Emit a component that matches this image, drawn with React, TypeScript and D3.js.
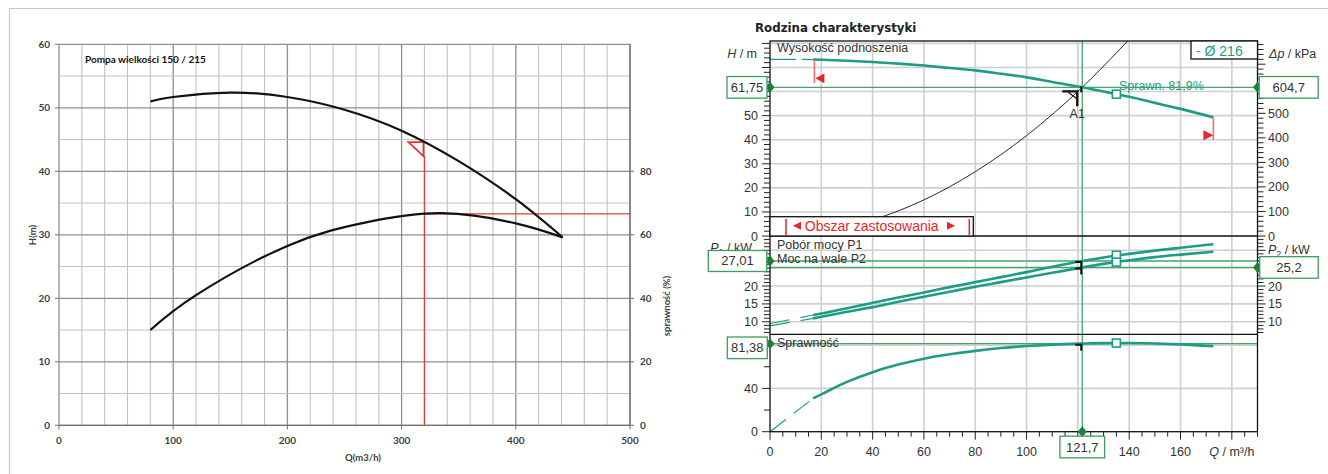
import React from 'react';
import * as d3 from 'd3';

// ---------- Left chart data (Pompa wielkości 150 / 215) ----------
const leftHeadQ = [80, 100, 150, 200, 250, 300, 350, 400, 441];
const leftHead = [51.0, 51.7, 52.4, 51.7, 49.7, 46.4, 41.6, 35.6, 29.6];
const leftEffQ = [80, 120, 200, 270, 335, 400, 441];
const leftEff = [30, 41, 56.5, 64, 66.8, 63.6, 59.2];
const leftOpQ = 320;
const leftOpH = 44.6;
const leftOpEff = 66.6;
const leftXTicks = [0, 100, 200, 300, 400, 500];
const leftYTicks = [0, 10, 20, 30, 40, 50, 60];
const leftEffTicks = [0, 20, 40, 60, 80];

// ---------- Right chart data (Rodzina charakterystyki) ----------
const rQ = [0, 10, 16.8, 20, 30, 40, 50, 60, 70, 80, 90, 100, 110, 121.7, 130, 140, 150, 160, 172.8];
const rHead = [73.4, 73.4, 73.3, 73.2, 72.8, 72.3, 71.6, 70.8, 69.8, 68.8, 67.4, 65.9, 64.0, 61.75, 60.0, 57.8, 55.3, 52.8, 49.3];
const rP1 = [9.5, 10.9, 11.9, 12.3, 13.8, 15.3, 16.8, 18.2, 19.7, 21.1, 22.5, 23.9, 25.4, 27.01, 28.0, 29.0, 29.9, 30.7, 31.7];
const rP2 = [8.9, 10.1, 10.95, 11.4, 12.8, 14.1, 15.6, 17.0, 18.4, 19.8, 21.1, 22.4, 23.7, 25.2, 26.2, 27.2, 28.1, 28.8, 29.6];
const rEff = [0, 18.3, 30.8, 34.5, 46, 55, 62, 67.5, 71.5, 74.7, 77.3, 79.2, 80.5, 81.38, 81.8, 81.9, 81.5, 80.7, 79.1];
const dashEndIndex = 2; // curves dashed up to Q = 16.8
const sysQ = [0, 20, 40, 60, 80, 100, 121.7, 139.4];
const sysH = [0, 1.67, 6.67, 15.0, 26.7, 41.7, 61.75, 81];
const opQ = 121.7;
const opH = 61.75;
const opDp = 604.7;
const opP1 = 27.01;
const opP2 = 25.2;
const opEff = 81.38;
const bestQ = 135;
const bestH = 58.9;
const bestP1 = 28.6;
const bestP2 = 26.7;
const bestEff = 81.9;
const rangeMinQ = 17.3;
const rangeMaxQ = 172.8;
// visible tick labels (the ones under the value boxes are hidden in the reference)
const xLabels = [0, 20, 40, 60, 80, 100, 140, 160];
const headLabels = [0, 10, 20, 30, 40, 50];
const kpaLabels = [0, 100, 200, 300, 400, 500];
const powLabels = [10, 15, 20];
const effLabels = [0, 40];

const teal = '#1f9c84';
const opGreen = '#43a56a';
const darkGreen = '#1b7f3e';
const boxGreen = '#3d9c5e';
const red = '#e8262b';
const gridC = '#cfcfcf';
const txt = '#333';
const rFont = '"Liberation Sans", Arial, sans-serif';
const lFont = 'Lato, "Open Sans", sans-serif';

const fmt = (v: number) => String(v).replace('.', ',');

export default function App() {
  // Left chart scales
  const xL = d3.scaleLinear().domain([0, 500]).range([59, 630]);
  const yL = d3.scaleLinear().domain([0, 60]).range([425.3, 44.3]);
  const yLE = d3.scaleLinear().domain([0, 120]).range([425.3, 44.3]);
  const lineL = d3.line<[number, number]>().curve(d3.curveNatural);
  const headPathL = lineL(leftHeadQ.map((q, i) => [xL(q), yL(leftHead[i])]));
  const effPathL = lineL(leftEffQ.map((q, i) => [xL(q), yLE(leftEff[i])]));

  // Right chart scales
  const PL = 770, PR = 1257.5, PT = 41, B1 = 236, B2 = 334.3, B3 = 431.7;
  const xR = d3.scaleLinear().domain([0, 190]).range([PL, PR]);
  const yHd = d3.scaleLinear().domain([0, 81]).range([B1, PT]);
  const yKpa = d3.scaleLinear().domain([0, 81 * 9.81]).range([B1, PT]);
  const yPw = d3.scaleLinear().domain([6.5, 34]).range([B2, B1]);
  const yEf = d3.scaleLinear().domain([0, 90]).range([B3, B2]);
  const lineR = d3.line<[number, number]>().curve(d3.curveMonotoneX);
  const mk = (vals: number[], y: d3.ScaleLinear<number, number>, from: number, to: number) =>
    lineR(rQ.slice(from, to).map((q, i) => [xR(q), y(vals[from + i])]));
  const n = rQ.length;
  const sysPath = lineR(sysQ.map((q, i) => [xR(q), yHd(sysH[i])]));

  const diamond = (x: number, y: number) => `M${x},${y - 5.5}L${x + 4.5},${y}L${x},${y + 5.5}L${x - 4.5},${y}Z`;
  const box = (cx: number, cy: number, w: number, h: number, label: string, key: string) => (
    <g key={key}>
      <rect x={cx - w / 2} y={cy - h / 2} width={w} height={h} fill="#fff" stroke={boxGreen} strokeWidth={1.3} />
      <text x={cx} y={cy + 4.5} textAnchor="middle" fontSize={13} fill={txt} fontFamily={rFont}>{label}</text>
    </g>
  );
  const corner = (x: number, y: number, key: string) => (
    <path key={key} d={`M${x - 7},${y + 1}L${x - 1},${y + 1}L${x - 1},${y + 7}`} fill="none" stroke="#111" strokeWidth={2} />
  );
  const square = (x: number, y: number, key: string) => (
    <rect key={key} x={x - 4} y={y - 4} width={8} height={8} fill="#fff" stroke={teal} strokeWidth={1.6} />
  );

  const opX = xR(opQ);
  const effBoxCy = Math.max(yEf(opEff), B2 + 13.5);

  return (
    <svg width={1328} height={474} style={{ position: 'absolute', left: 0, top: 0, background: '#fff' }}>
      <defs>
        <clipPath id="cHead"><rect x={PL} y={PT} width={PR - PL} height={B1 - PT} /></clipPath>
        <clipPath id="cPow"><rect x={PL} y={B1} width={PR - PL} height={B2 - B1} /></clipPath>
        <clipPath id="cEff"><rect x={PL} y={B2} width={PR - PL} height={B3 - B2} /></clipPath>
      </defs>
      {/* outer frame */}
      <line x1={9} y1={8.5} x2={1328} y2={8.5} stroke="#c8c8c8" strokeWidth={1.2} />
      <line x1={9.5} y1={8.5} x2={9.5} y2={474} stroke="#c8c8c8" strokeWidth={1.2} />

      {/* ================= LEFT CHART ================= */}
      <g>
        {d3.range(0, 501, 20).map(q => (
          <line key={'lv' + q} x1={xL(q)} x2={xL(q)} y1={yL(60)} y2={yL(0)}
            stroke={q % 100 === 0 ? '#8e8e8e' : '#c2c2c2'} strokeWidth={q % 100 === 0 ? 1.3 : 1.1} />
        ))}
        {d3.range(0, 61, 5).map(h => (
          <line key={'lh' + h} x1={xL(0)} x2={xL(500)} y1={yL(h)} y2={yL(h)}
            stroke={h % 10 === 0 ? '#8e8e8e' : '#c2c2c2'} strokeWidth={h % 10 === 0 ? 1.3 : 1.1} />
        ))}
        <line x1={xL(500)} x2={xL(500)} y1={yL(60)} y2={yL(0)} stroke="#707070" strokeWidth={1.3} />
        <line x1={xL(0)} x2={xL(500)} y1={yL(0)} y2={yL(0)} stroke="#707070" strokeWidth={1.3} />
        {leftYTicks.map(h => (
          <g key={'lyt' + h}>
            <line x1={xL(0) - 4} x2={xL(0)} y1={yL(h)} y2={yL(h)} stroke="#707070" />
            <text x={xL(0) - 9} y={yL(h) + 3.5} textAnchor="end" fontSize={10} fontWeight="bold" fill="#404040" fontFamily={lFont}>{h}</text>
          </g>
        ))}
        {leftXTicks.map(q => (
          <g key={'lxt' + q}>
            <line x1={xL(q)} x2={xL(q)} y1={yL(0)} y2={yL(0) + 4} stroke="#707070" />
            <text x={xL(q)} y={444} textAnchor="middle" fontSize={10} fontWeight="bold" fill="#404040" fontFamily={lFont}>{q}</text>
          </g>
        ))}
        {leftEffTicks.map(e => (
          <g key={'let' + e}>
            <line x1={xL(500)} x2={xL(500) + 4} y1={yLE(e)} y2={yLE(e)} stroke="#707070" />
            <text x={xL(500) + 10} y={yLE(e) + 3.5} textAnchor="start" fontSize={10} fontWeight="bold" fill="#404040" fontFamily={lFont}>{e}</text>
          </g>
        ))}
        <text x={85} y={63} fontSize={10} fontWeight="bold" fill="#111" fontFamily={lFont}>Pompa wielkości 150 / 215</text>
        <text transform="translate(36,235) rotate(-90)" textAnchor="middle" fontSize={9.5} fontWeight="bold" fill="#404040" fontFamily={lFont}>H(m)</text>
        <text x={363} y={461} textAnchor="middle" fontSize={9.5} fontWeight="bold" fill="#404040" fontFamily={lFont}>Q(m3/h)</text>
        <text transform="translate(670,306) rotate(-90)" textAnchor="middle" fontSize={9.5} fontWeight="bold" fill="#404040" fontFamily={lFont}>sprawność (%)</text>
        {/* operating point red lines */}
        <line x1={xL(leftOpQ)} x2={xL(500)} y1={yLE(leftOpEff)} y2={yLE(leftOpEff)} stroke="#e03a3a" strokeWidth={1.3} />
        <line x1={xL(leftOpQ)} x2={xL(leftOpQ)} y1={yL(0)} y2={yL(leftOpH) + 14} stroke="#e03a3a" strokeWidth={1.3} />
        <path d={`M${xL(leftOpQ) - 16},${yL(leftOpH)}L${xL(leftOpQ) - 1},${yL(leftOpH)}L${xL(leftOpQ) - 1},${yL(leftOpH) + 14}Z`}
          fill="none" stroke="#e03a3a" strokeWidth={1.8} />
        <path d={headPathL ?? ''} fill="none" stroke="#111" strokeWidth={2.2} />
        <path d={effPathL ?? ''} fill="none" stroke="#111" strokeWidth={2.2} />
      </g>

      {/* ================= RIGHT CHART ================= */}
      <g fontFamily={rFont}>
        <text x={755} y={32} fontSize={11.8} fontWeight="bold" fill="#222" fontFamily='"DejaVu Sans", Verdana, sans-serif'>Rodzina charakterystyki</text>

        {/* grid */}
        {d3.range(20, 181, 20).map(q => (
          <line key={'rv' + q} x1={xR(q)} x2={xR(q)} y1={PT} y2={B3} stroke={gridC} strokeWidth={1.6} />
        ))}
        {d3.range(10, 81, 10).map(h => (
          <line key={'rhh' + h} x1={PL} x2={PR} y1={yHd(h)} y2={yHd(h)} stroke={gridC} strokeWidth={1.6} />
        ))}
        {d3.range(10, 31, 5).map(p => (
          <line key={'rhp' + p} x1={PL} x2={PR} y1={yPw(p)} y2={yPw(p)} stroke={gridC} strokeWidth={1.6} />
        ))}
        {[40, 80].map(e => (
          <line key={'rhe' + e} x1={PL} x2={PR} y1={yEf(e)} y2={yEf(e)} stroke={gridC} strokeWidth={1.6} />
        ))}

        {/* system curve */}
        <g clipPath="url(#cHead)">
          <path d={sysPath ?? ''} fill="none" stroke="#111" strokeWidth={0.9} />
        </g>

        {/* operating point lines */}
        <line x1={opX} x2={opX} y1={PT} y2={B3} stroke={opGreen} strokeWidth={1.3} />
        <line x1={PL} x2={PR} y1={yHd(opH)} y2={yHd(opH)} stroke={opGreen} strokeWidth={1.3} />
        <line x1={PL} x2={PR} y1={yPw(opP1)} y2={yPw(opP1)} stroke={opGreen} strokeWidth={1.3} />
        <line x1={PL} x2={PR} y1={yPw(opP2)} y2={yPw(opP2)} stroke={opGreen} strokeWidth={1.3} />
        <line x1={PL} x2={PR} y1={yEf(opEff)} y2={yEf(opEff)} stroke={opGreen} strokeWidth={1.3} />

        {/* pump curves */}
        <g clipPath="url(#cHead)">
          <path d={mk(rHead, yHd, 0, dashEndIndex + 1) ?? ''} fill="none" stroke={teal} strokeWidth={1.3} strokeDasharray="26,6" />
          <path d={mk(rHead, yHd, dashEndIndex, n) ?? ''} fill="none" stroke={teal} strokeWidth={2.6} />
        </g>
        <g clipPath="url(#cPow)">
          <path d={mk(rP1, yPw, 0, dashEndIndex + 1) ?? ''} fill="none" stroke={teal} strokeWidth={1.2} strokeDasharray="20,11" />
          <path d={mk(rP2, yPw, 0, dashEndIndex + 1) ?? ''} fill="none" stroke={teal} strokeWidth={1.2} strokeDasharray="20,11" />
          <path d={mk(rP1, yPw, dashEndIndex, n) ?? ''} fill="none" stroke={teal} strokeWidth={2.6} />
          <path d={mk(rP2, yPw, dashEndIndex, n) ?? ''} fill="none" stroke={teal} strokeWidth={2.6} />
        </g>
        <g clipPath="url(#cEff)">
          <path d={mk(rEff, yEf, 0, dashEndIndex + 1) ?? ''} fill="none" stroke={teal} strokeWidth={1.2} strokeDasharray="20,10" />
          <path d={mk(rEff, yEf, dashEndIndex, n) ?? ''} fill="none" stroke={teal} strokeWidth={2.6} />
        </g>

        {/* panel frames */}
        <rect x={PL} y={PT} width={PR - PL} height={B3 - PT} fill="none" stroke="#111" strokeWidth={1.3} />
        <line x1={PL} x2={PR} y1={B1} y2={B1} stroke="#111" strokeWidth={1.3} />
        <line x1={PL} x2={PR} y1={B2} y2={B2} stroke="#111" strokeWidth={1.3} />

        {/* application range markers */}
        <line x1={xR(rangeMinQ)} x2={xR(rangeMinQ)} y1={yHd(73.2)} y2={yHd(63.5)} stroke="#f07070" strokeWidth={1.6} />
        <path d={`M${xR(rangeMinQ) + 1},${yHd(65.5)}L${xR(rangeMinQ) + 10},${yHd(67.5)}L${xR(rangeMinQ) + 10},${yHd(63.5)}Z`} fill={red} />
        <line x1={xR(rangeMaxQ)} x2={xR(rangeMaxQ)} y1={yHd(49.3)} y2={yHd(39.8)} stroke="#f07070" strokeWidth={1.6} />
        <path d={`M${xR(rangeMaxQ) - 10},${yHd(43.9)}L${xR(rangeMaxQ)},${yHd(41.9)}L${xR(rangeMaxQ) - 10},${yHd(39.8)}Z`} fill={red} />

        {/* Obszar zastosowania */}
        <rect x={PL} y={216.7} width={203.3} height={B1 - 216.7} fill="#fff" stroke="#111" strokeWidth={1.3} />
        <line x1={786} x2={786} y1={219} y2={B1} stroke={red} strokeWidth={1.5} />
        <line x1={969.3} x2={969.3} y1={219} y2={B1} stroke={red} strokeWidth={1.5} />
        <path d="M793,225.7L801,221.7L801,229.7Z" fill={red} />
        <path d="M955,225.7L947,221.7L947,229.7Z" fill={red} />
        <text x={871.7} y={230.5} textAnchor="middle" fontSize={14} fill={red}>Obszar zastosowania</text>

        {/* left head axis */}
        {d3.range(0, 81, 2).map(h => (
          <line key={'th' + h} x1={PL - (h % 10 === 0 ? 8 : 6)} x2={PL} y1={yHd(h)} y2={yHd(h)} stroke="#222" strokeWidth={1} />
        ))}
        {headLabels.map(h => (
          <text key={'lh' + h} x={758} y={yHd(h) + 4.5} textAnchor="end" fontSize={12.5} fill={txt}>{h}</text>
        ))}
        {/* right kPa axis */}
        {d3.range(0, 781, 20).map(p => (
          <line key={'tk' + p} x1={PR} x2={PR + (p % 100 === 0 ? 8 : 6)} y1={yKpa(p)} y2={yKpa(p)} stroke="#222" strokeWidth={1} />
        ))}
        {kpaLabels.map(p => (
          <text key={'lk' + p} x={1268} y={yKpa(p) + 4.5} textAnchor="start" fontSize={12.5} fill={txt}>{p}</text>
        ))}
        {/* power axes */}
        {d3.range(7, 34, 1).map(p => (
          <g key={'tp' + p}>
            <line x1={PL - (p % 5 === 0 ? 8 : 6)} x2={PL} y1={yPw(p)} y2={yPw(p)} stroke="#222" strokeWidth={1} />
            <line x1={PR} x2={PR + (p % 5 === 0 ? 8 : 6)} y1={yPw(p)} y2={yPw(p)} stroke="#222" strokeWidth={1} />
          </g>
        ))}
        {powLabels.map(p => (
          <g key={'lp' + p}>
            <text x={758} y={yPw(p) + 4.5} textAnchor="end" fontSize={12.5} fill={txt}>{p}</text>
            <text x={1268} y={yPw(p) + 4.5} textAnchor="start" fontSize={12.5} fill={txt}>{p}</text>
          </g>
        ))}
        {/* efficiency axis */}
        {[0, 20, 40, 60, 80].map(e => (
          <line key={'te' + e} x1={PL - (e % 40 === 0 ? 8 : 6)} x2={PL} y1={yEf(e)} y2={yEf(e)} stroke="#222" strokeWidth={1} />
        ))}
        {effLabels.map(e => (
          <text key={'le' + e} x={758} y={yEf(e) + 4.5} textAnchor="end" fontSize={12.5} fill={txt}>{e}</text>
        ))}
        {/* x axis */}
        {d3.range(0, 191, 5).map(q => (
          <line key={'tx' + q} x1={xR(q)} x2={xR(q)} y1={B3} y2={B3 + (q % 20 === 0 ? 8 : 5)} stroke="#222" strokeWidth={1} />
        ))}
        {xLabels.map(q => (
          <text key={'lx' + q} x={xR(q)} y={456} textAnchor="middle" fontSize={12.5} fill={txt}>{q}</text>
        ))}
        <text x={xR(180)} y={456} textAnchor="middle" fontSize={12.5} fill={txt}>
          <tspan fontStyle="italic">Q</tspan> / m³/h
        </text>

        {/* axis titles */}
        <text x={757} y={58} textAnchor="end" fontSize={12.5} fill={txt}><tspan fontStyle="italic">H</tspan> / m</text>
        <text x={1269} y={58} textAnchor="start" fontSize={12.5} fill={txt}><tspan fontStyle="italic">Δp</tspan> / kPa</text>
        <text x={752} y={252} textAnchor="end" fontSize={12.5} fill={txt}>
          <tspan fontStyle="italic">P</tspan><tspan fontSize={9} dy={3}>1</tspan><tspan dy={-3}> / kW</tspan>
        </text>
        <text x={1268} y={254} textAnchor="start" fontSize={12.5} fill={txt}>
          <tspan fontStyle="italic">P</tspan><tspan fontSize={9} dy={3}>2</tspan><tspan dy={-3}> / kW</tspan>
        </text>

        {/* curve names */}
        <text x={777} y={52} fontSize={12.5} fill={txt}>Wysokość podnoszenia</text>
        <text x={777} y={249} fontSize={12.5} fill={txt}>Pobór mocy P1</text>
        <text x={777} y={263} fontSize={12.5} fill={txt}>Moc na wale P2</text>
        <text x={777} y={347} fontSize={12.5} fill={txt}>Sprawność</text>
        <text x={1119} y={89.5} fontSize={12.5} fill={teal}>Sprawn.  81,9%</text>

        {/* best efficiency squares */}
        {square(xR(bestQ), yHd(bestH), 'sq1')}
        {square(xR(bestQ), yPw(bestP1), 'sq2')}
        {square(xR(bestQ), yPw(bestP2), 'sq3')}
        {square(xR(bestQ), yEf(bestEff), 'sq4')}

        {/* operating point markers */}
        <path d={`M${opX - 20},${yHd(opH) + 4}L${opX - 5},${yHd(opH) + 4}L${opX - 5},${yHd(opH) + 19}`} fill="none" stroke="#111" strokeWidth={2.4} />
        <line x1={opX - 14} x2={opX - 6} y1={yHd(opH) + 5} y2={yHd(opH) + 11} stroke="#111" strokeWidth={1.2} />
        <line x1={opX - 1} x2={opX - 1} y1={yHd(opH) - 1} y2={yHd(opH) + 5} stroke="#111" strokeWidth={2} />
        <text x={opX - 5} y={118} textAnchor="middle" fontSize={12.5} fill={txt}>A1</text>
        {corner(opX, yPw(opP1), 'c1')}
        {corner(opX, yPw(opP2), 'c2')}
        {corner(opX, yEf(opEff), 'c3')}

        {/* diamonds */}
        <path d={diamond(PL, yHd(opH))} fill={darkGreen} />
        <path d={diamond(PR, yHd(opH))} fill={darkGreen} />
        <path d={diamond(PL, yPw(opP1))} fill={darkGreen} />
        <path d={diamond(PR, yPw(opP2))} fill={darkGreen} />
        <path d={diamond(PL, yEf(opEff))} fill={darkGreen} />
        <path d={diamond(opX, B3)} fill={darkGreen} />

        {/* value boxes */}
        {box(747, yHd(opH), 40, 21.6, fmt(opH), 'b1')}
        {box(1288.7, yHd(opH), 59, 21.6, fmt(opDp), 'b2')}
        {box(737.5, yPw(opP1), 58.5, 21, fmt(opP1), 'b3')}
        {box(1289, yPw(opP2), 58.5, 21.6, fmt(opP2), 'b4')}
        {box(747.3, effBoxCy, 40, 21.6, fmt(opEff), 'b5')}
        {box(opX, 447, 44.7, 21.7, fmt(opQ), 'b6')}

        {/* impeller diameter box */}
        <rect x={1191} y={PT} width={PR - 1191} height={18} fill="#fff" stroke="#111" strokeWidth={1.3} />
        <text x={1196} y={56} fontSize={14} fill={teal}>- Ø 216</text>
      </g>
    </svg>
  );
}
